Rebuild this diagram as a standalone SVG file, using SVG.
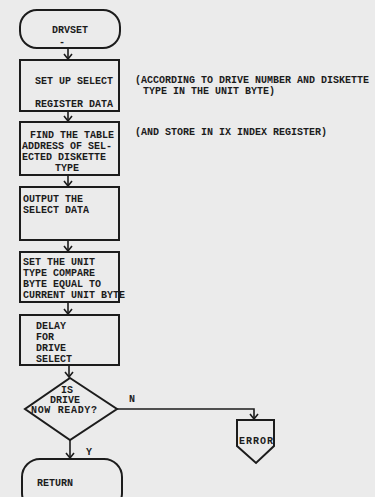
<svg xmlns="http://www.w3.org/2000/svg" width="375" height="497" viewBox="0 0 375 497">
<defs>
<marker id="arr" markerUnits="userSpaceOnUse" markerWidth="14" markerHeight="10" viewBox="-7 -7 14 10" refX="0" refY="0" orient="auto-start-reverse" overflow="visible">
<path d="M-5,-4 L0,0 L-5,4" fill="none" stroke="#1c1c1c" stroke-width="1.6"/>
</marker>
<style>
.shape{fill:none;stroke:#1c1c1c;stroke-width:2}
.t{font-family:"Liberation Mono","DejaVu Sans Mono",monospace;font-weight:bold;font-size:10px;fill:#1c1c1c}
.c{stroke:#1c1c1c;stroke-width:1.6;fill:none;marker-end:url(#arr)}
</style>
</defs>
<rect x="0" y="0" width="375" height="497" fill="#ebebeb"/>

<g id="connectors">
<line class="c" x1="68" y1="48" x2="68" y2="59"/>
<line class="c" x1="68" y1="111" x2="68" y2="121"/>
<line class="c" x1="68" y1="175" x2="68" y2="186"/>
<line class="c" x1="68" y1="240" x2="68" y2="251"/>
<line class="c" x1="68" y1="302" x2="68" y2="314"/>
<line class="c" x1="69" y1="365" x2="69" y2="377"/>
<polyline class="c" points="117,409 254,409 254,419"/>
<line class="c" x1="70" y1="440" x2="70" y2="458"/>
<text class="t" x="129" y="402" font-size="8">N</text>
<text class="t" x="86" y="455" font-size="8">Y</text>
</g>

<g id="drvset">
<rect class="shape" x="20" y="10" width="100" height="38" rx="17" ry="17"/>
<text class="t" x="52" y="33" font-size="8.5">DRVSET</text>
<text class="t" x="59" y="45" font-size="8">-</text>
</g>

<g id="setup">
<rect class="shape" x="20" y="60" width="99" height="51"/>
<text class="t" x="35" y="84">SET UP SELECT</text>
<text class="t" x="35" y="107">REGISTER DATA</text>
</g>

<g id="note1">
<text class="t" x="135" y="83">(ACCORDING TO DRIVE NUMBER AND DISKETTE</text>
<text class="t" x="143" y="94">TYPE IN THE UNIT BYTE)</text>
</g>

<g id="findtable">
<rect class="shape" x="20" y="122" width="99" height="53"/>
<text class="t" x="30" y="138">FIND THE TABLE</text>
<text class="t" x="22" y="149">ADDRESS OF SEL-</text>
<text class="t" x="22" y="160">ECTED DISKETTE</text>
<text class="t" x="55" y="171">TYPE</text>
</g>

<g id="note2">
<text class="t" x="135" y="135">(AND STORE IN IX INDEX REGISTER)</text>
</g>

<g id="output">
<rect class="shape" x="20" y="187" width="99" height="53"/>
<text class="t" x="23" y="202">OUTPUT THE</text>
<text class="t" x="23" y="213">SELECT DATA</text>
</g>

<g id="settype">
<rect class="shape" x="20" y="252" width="99" height="50"/>
<text class="t" x="23" y="265">SET THE UNIT</text>
<text class="t" x="23" y="276">TYPE COMPARE</text>
<text class="t" x="23" y="287">BYTE EQUAL TO</text>
<text class="t" x="23" y="298">CURRENT UNIT BYTE</text>
</g>

<g id="delay">
<rect class="shape" x="20" y="315" width="99" height="50"/>
<text class="t" x="36" y="329">DELAY</text>
<text class="t" x="36" y="340">FOR</text>
<text class="t" x="36" y="351">DRIVE</text>
<text class="t" x="36" y="362">SELECT</text>
</g>

<g id="decision">
<polygon class="shape" points="70,378 117,409 70,440 25,409"/>
<text class="t" x="61" y="393">IS</text>
<text class="t" x="50" y="403">DRIVE</text>
<text class="t" x="31" y="413" textLength="66">NOW READY?</text>
</g>

<g id="error">
<polygon class="shape" points="237,420 274,420 274,446 256,463 237,446"/>
<text class="t" x="239" y="444" font-size="9" textLength="34">ERROR</text>
</g>

<g id="return">
<rect class="shape" x="22" y="459" width="100" height="52" rx="18" ry="18"/>
<text class="t" x="37" y="486">RETURN</text>
</g>
</svg>
